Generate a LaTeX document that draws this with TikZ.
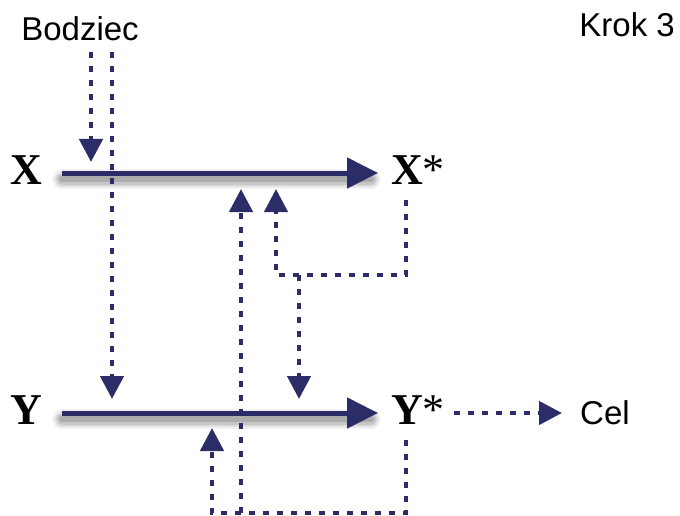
\documentclass[tikz,border=0pt]{standalone}
\usepackage{fontspec}
\setmainfont{Liberation Sans}
\newfontfamily\varfont{Liberation Serif}
\usetikzlibrary{arrows.meta, positioning, calc}
\definecolor{arrowblue}{RGB}{44,44,104}

\tikzset{
  txt/.style={font=\fontsize{33}{38}\selectfont, inner sep=0pt},
  var/.style={font=\varfont\bfseries\fontsize{44}{48}\selectfont, inner sep=0pt},
  mainarrow/.style={arrowblue, line width=5pt, -{Triangle[length=31pt,width=30pt]}},
  dotline/.style={arrowblue, line width=4.5pt, dash pattern=on 6pt off 8pt},
  dotarrow/.style={dotline, -{Triangle[length=23pt,width=23pt]}},
}

\begin{document}
\begin{tikzpicture}[x={(1pt,0)}, y={(0,-1pt)}]
        \useasboundingbox (0,0) rectangle (680,516);

        % Labels
        \node[txt] (stim) at (80,29) {Bodziec};
        \node[txt, anchor=east] (step3) at (675,25) {Krok 3};
        \node[var] (X) at (26,170) {X};
        \node[var, anchor=west] (Xs) at (391,170) {X{\mdseries*}};
        \node[var] (Y) at (26,410) {Y};
        \node[var, anchor=west] (Ys) at (391,410) {Y{\mdseries*}};
        \node[txt, anchor=west] (goal) at (580,413) {Cel};

        % Soft shadow under the two main arrows
        \foreach \w/\c in {20/gray!10, 15/gray!25, 11/gray!45, 6/gray!65} {
            \draw[line width=\w pt, \c, line cap=round, shorten <=20pt, shorten >=20pt]
                ([yshift=-9pt]X.east) -- ([yshift=-9pt]Xs.west);
            \draw[line width=\w pt, \c, line cap=round, shorten <=20pt, shorten >=20pt]
                ([yshift=-9pt]Y.east) -- ([yshift=-9pt]Ys.west);
        }

        % Main arrows X -> X*, Y -> Y*
        \draw[mainarrow, shorten <=20pt, shorten >=13pt] ([yshift=-3pt]X.east) -- ([yshift=-3pt]Xs.west);
        \draw[mainarrow, shorten <=20pt, shorten >=13pt] ([yshift=-3pt]Y.east) -- ([yshift=-3pt]Ys.west);

        % Tips and corners of the dotted arrows
        \coordinate (inX) at (91,162);
        \coordinate (inY) at (112,399);
        \coordinate (upA) at (241,189);
        \coordinate (upB) at (276,189);
        \coordinate (dnY) at (299,399);
        \coordinate (upY) at (212,428);
        \coordinate (xout) at (406,200);
        \coordinate (yout) at (406,440);
        \coordinate (fbX) at (406,275);
        \coordinate (fbY) at (406,513);

        % Bodziec
        \draw[dotarrow] ([xshift=11pt,yshift=-11pt]stim.south) -- (inX);
        \draw[dotarrow] ([xshift=32pt,yshift=-11pt]stim.south) -- (inY);

        % Feedback from X*
        \draw[dotarrow] (xout) |- (fbX -| upB) -- (upB);
        \draw[dotarrow] (fbX -| dnY) -- (dnY);

        % Feedback from Y*
        \draw[dotarrow] (yout) |- (fbY -| upY) -- (upY);
        \draw[dotarrow] (fbY -| upA) -- (upA);

        % Cel
        \draw[dotarrow, shorten <=9pt, shorten >=18pt] ([yshift=-3pt]Ys.east) -- (goal.west);
    \end{tikzpicture}
\end{document}
